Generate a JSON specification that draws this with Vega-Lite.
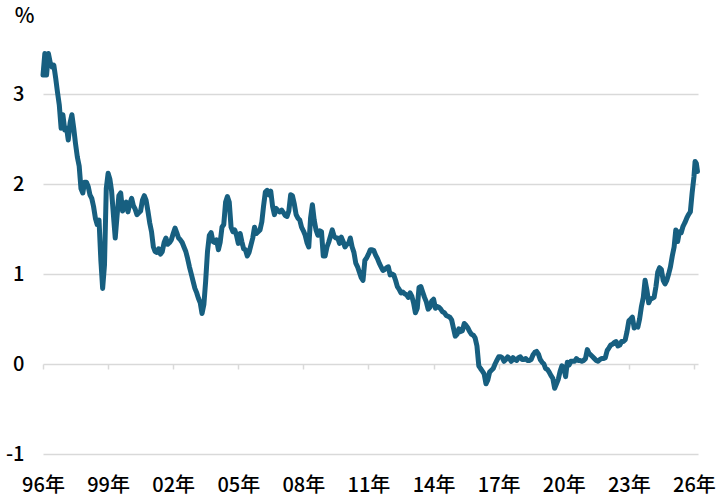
{
"$schema": "https://vega.github.io/schema/vega-lite/v6.json",
"width": 655, "height": 405,
"autosize": {"type": "none"},
"padding": {"left": 43, "top": 49, "right": 23, "bottom": 45},
"background": "white",
"config": {"view": {"stroke": null}, "font": "Noto Sans CJK JP"},
"datasets": {"jgb": [
{"d":"1996-01-01","v":3.21},{"d":"1996-02-01","v":3.45},{"d":"1996-03-01","v":3.21},{"d":"1996-04-01","v":3.45},{"d":"1996-05-01","v":3.35},{"d":"1996-06-01","v":3.3},{"d":"1996-07-01","v":3.32},{"d":"1996-08-01","v":3.18},{"d":"1996-09-01","v":3.02},{"d":"1996-10-01","v":2.88},{"d":"1996-11-01","v":2.62},{"d":"1996-12-01","v":2.77},
{"d":"1997-01-01","v":2.6},{"d":"1997-02-01","v":2.62},{"d":"1997-03-01","v":2.49},{"d":"1997-04-01","v":2.68},{"d":"1997-05-01","v":2.77},{"d":"1997-06-01","v":2.62},{"d":"1997-07-01","v":2.45},{"d":"1997-08-01","v":2.3},{"d":"1997-09-01","v":2.2},{"d":"1997-10-01","v":1.95},{"d":"1997-11-01","v":1.9},{"d":"1997-12-01","v":2.02},
{"d":"1998-01-01","v":2.02},{"d":"1998-02-01","v":1.97},{"d":"1998-03-01","v":1.88},{"d":"1998-04-01","v":1.84},{"d":"1998-05-01","v":1.75},{"d":"1998-06-01","v":1.62},{"d":"1998-07-01","v":1.55},{"d":"1998-08-01","v":1.6},{"d":"1998-09-01","v":1.15},{"d":"1998-10-01","v":0.84},{"d":"1998-11-01","v":1.1},{"d":"1998-12-01","v":1.95},
{"d":"1999-01-01","v":2.12},{"d":"1999-02-01","v":2.05},{"d":"1999-03-01","v":1.92},{"d":"1999-04-01","v":1.65},{"d":"1999-05-01","v":1.4},{"d":"1999-06-01","v":1.65},{"d":"1999-07-01","v":1.87},{"d":"1999-08-01","v":1.9},{"d":"1999-09-01","v":1.7},{"d":"1999-10-01","v":1.75},{"d":"1999-11-01","v":1.8},{"d":"1999-12-01","v":1.69},
{"d":"2000-01-01","v":1.78},{"d":"2000-02-01","v":1.84},{"d":"2000-03-01","v":1.76},{"d":"2000-04-01","v":1.72},{"d":"2000-05-01","v":1.66},{"d":"2000-06-01","v":1.68},{"d":"2000-07-01","v":1.7},{"d":"2000-08-01","v":1.82},{"d":"2000-09-01","v":1.87},{"d":"2000-10-01","v":1.82},{"d":"2000-11-01","v":1.7},{"d":"2000-12-01","v":1.57},
{"d":"2001-01-01","v":1.47},{"d":"2001-02-01","v":1.3},{"d":"2001-03-01","v":1.25},{"d":"2001-04-01","v":1.24},{"d":"2001-05-01","v":1.28},{"d":"2001-06-01","v":1.22},{"d":"2001-07-01","v":1.25},{"d":"2001-08-01","v":1.35},{"d":"2001-09-01","v":1.4},{"d":"2001-10-01","v":1.33},{"d":"2001-11-01","v":1.35},{"d":"2001-12-01","v":1.38},
{"d":"2002-01-01","v":1.45},{"d":"2002-02-01","v":1.51},{"d":"2002-03-01","v":1.46},{"d":"2002-04-01","v":1.4},{"d":"2002-05-01","v":1.38},{"d":"2002-06-01","v":1.35},{"d":"2002-07-01","v":1.3},{"d":"2002-08-01","v":1.25},{"d":"2002-09-01","v":1.17},{"d":"2002-10-01","v":1.08},{"d":"2002-11-01","v":1.0},{"d":"2002-12-01","v":0.92},
{"d":"2003-01-01","v":0.84},{"d":"2003-02-01","v":0.79},{"d":"2003-03-01","v":0.73},{"d":"2003-04-01","v":0.68},{"d":"2003-05-01","v":0.56},{"d":"2003-06-01","v":0.66},{"d":"2003-07-01","v":0.92},{"d":"2003-08-01","v":1.25},{"d":"2003-09-01","v":1.43},{"d":"2003-10-01","v":1.46},{"d":"2003-11-01","v":1.36},{"d":"2003-12-01","v":1.35},
{"d":"2004-01-01","v":1.38},{"d":"2004-02-01","v":1.27},{"d":"2004-03-01","v":1.35},{"d":"2004-04-01","v":1.52},{"d":"2004-05-01","v":1.55},{"d":"2004-06-01","v":1.8},{"d":"2004-07-01","v":1.86},{"d":"2004-08-01","v":1.8},{"d":"2004-09-01","v":1.52},{"d":"2004-10-01","v":1.47},{"d":"2004-11-01","v":1.49},{"d":"2004-12-01","v":1.43},
{"d":"2005-01-01","v":1.34},{"d":"2005-02-01","v":1.45},{"d":"2005-03-01","v":1.36},{"d":"2005-04-01","v":1.28},{"d":"2005-05-01","v":1.27},{"d":"2005-06-01","v":1.2},{"d":"2005-07-01","v":1.24},{"d":"2005-08-01","v":1.32},{"d":"2005-09-01","v":1.4},{"d":"2005-10-01","v":1.52},{"d":"2005-11-01","v":1.45},{"d":"2005-12-01","v":1.47},
{"d":"2006-01-01","v":1.49},{"d":"2006-02-01","v":1.58},{"d":"2006-03-01","v":1.75},{"d":"2006-04-01","v":1.91},{"d":"2006-05-01","v":1.93},{"d":"2006-06-01","v":1.88},{"d":"2006-07-01","v":1.92},{"d":"2006-08-01","v":1.75},{"d":"2006-09-01","v":1.66},{"d":"2006-10-01","v":1.73},{"d":"2006-11-01","v":1.7},{"d":"2006-12-01","v":1.69},
{"d":"2007-01-01","v":1.71},{"d":"2007-02-01","v":1.68},{"d":"2007-03-01","v":1.65},{"d":"2007-04-01","v":1.64},{"d":"2007-05-01","v":1.7},{"d":"2007-06-01","v":1.88},{"d":"2007-07-01","v":1.87},{"d":"2007-08-01","v":1.78},{"d":"2007-09-01","v":1.66},{"d":"2007-10-01","v":1.62},{"d":"2007-11-01","v":1.6},{"d":"2007-12-01","v":1.52},
{"d":"2008-01-01","v":1.48},{"d":"2008-02-01","v":1.43},{"d":"2008-03-01","v":1.35},{"d":"2008-04-01","v":1.3},{"d":"2008-05-01","v":1.62},{"d":"2008-06-01","v":1.77},{"d":"2008-07-01","v":1.6},{"d":"2008-08-01","v":1.49},{"d":"2008-09-01","v":1.43},{"d":"2008-10-01","v":1.48},{"d":"2008-11-01","v":1.47},{"d":"2008-12-01","v":1.2},
{"d":"2009-01-01","v":1.2},{"d":"2009-02-01","v":1.3},{"d":"2009-03-01","v":1.35},{"d":"2009-04-01","v":1.42},{"d":"2009-05-01","v":1.49},{"d":"2009-06-01","v":1.42},{"d":"2009-07-01","v":1.4},{"d":"2009-08-01","v":1.4},{"d":"2009-09-01","v":1.34},{"d":"2009-10-01","v":1.41},{"d":"2009-11-01","v":1.36},{"d":"2009-12-01","v":1.3},
{"d":"2010-01-01","v":1.33},{"d":"2010-02-01","v":1.34},{"d":"2010-03-01","v":1.4},{"d":"2010-04-01","v":1.3},{"d":"2010-05-01","v":1.24},{"d":"2010-06-01","v":1.12},{"d":"2010-07-01","v":1.08},{"d":"2010-08-01","v":1.02},{"d":"2010-09-01","v":0.96},{"d":"2010-10-01","v":0.93},{"d":"2010-11-01","v":1.15},{"d":"2010-12-01","v":1.18},
{"d":"2011-01-01","v":1.22},{"d":"2011-02-01","v":1.27},{"d":"2011-03-01","v":1.27},{"d":"2011-04-01","v":1.26},{"d":"2011-05-01","v":1.21},{"d":"2011-06-01","v":1.17},{"d":"2011-07-01","v":1.12},{"d":"2011-08-01","v":1.08},{"d":"2011-09-01","v":1.04},{"d":"2011-10-01","v":1.05},{"d":"2011-11-01","v":1.07},{"d":"2011-12-01","v":1.08},
{"d":"2012-01-01","v":0.99},{"d":"2012-02-01","v":1.0},{"d":"2012-03-01","v":0.99},{"d":"2012-04-01","v":0.93},{"d":"2012-05-01","v":0.86},{"d":"2012-06-01","v":0.83},{"d":"2012-07-01","v":0.79},{"d":"2012-08-01","v":0.8},{"d":"2012-09-01","v":0.78},{"d":"2012-10-01","v":0.77},{"d":"2012-11-01","v":0.74},{"d":"2012-12-01","v":0.79},
{"d":"2013-01-01","v":0.75},{"d":"2013-02-01","v":0.67},{"d":"2013-03-01","v":0.57},{"d":"2013-04-01","v":0.62},{"d":"2013-05-01","v":0.85},{"d":"2013-06-01","v":0.86},{"d":"2013-07-01","v":0.8},{"d":"2013-08-01","v":0.74},{"d":"2013-09-01","v":0.69},{"d":"2013-10-01","v":0.61},{"d":"2013-11-01","v":0.63},{"d":"2013-12-01","v":0.7},
{"d":"2014-01-01","v":0.72},{"d":"2014-02-01","v":0.62},{"d":"2014-03-01","v":0.64},{"d":"2014-04-01","v":0.63},{"d":"2014-05-01","v":0.61},{"d":"2014-06-01","v":0.58},{"d":"2014-07-01","v":0.57},{"d":"2014-08-01","v":0.54},{"d":"2014-09-01","v":0.53},{"d":"2014-10-01","v":0.52},{"d":"2014-11-01","v":0.49},{"d":"2014-12-01","v":0.4},
{"d":"2015-01-01","v":0.31},{"d":"2015-02-01","v":0.33},{"d":"2015-03-01","v":0.39},{"d":"2015-04-01","v":0.36},{"d":"2015-05-01","v":0.37},{"d":"2015-06-01","v":0.45},{"d":"2015-07-01","v":0.43},{"d":"2015-08-01","v":0.4},{"d":"2015-09-01","v":0.36},{"d":"2015-10-01","v":0.33},{"d":"2015-11-01","v":0.32},{"d":"2015-12-01","v":0.29},
{"d":"2016-01-01","v":0.2},{"d":"2016-02-01","v":-0.02},{"d":"2016-03-01","v":-0.05},{"d":"2016-04-01","v":-0.08},{"d":"2016-05-01","v":-0.11},{"d":"2016-06-01","v":-0.22},{"d":"2016-07-01","v":-0.18},{"d":"2016-08-01","v":-0.09},{"d":"2016-09-01","v":-0.07},{"d":"2016-10-01","v":-0.05},{"d":"2016-11-01","v":0.0},{"d":"2016-12-01","v":0.04},
{"d":"2017-01-01","v":0.08},{"d":"2017-02-01","v":0.08},{"d":"2017-03-01","v":0.07},{"d":"2017-04-01","v":0.03},{"d":"2017-05-01","v":0.05},{"d":"2017-06-01","v":0.08},{"d":"2017-07-01","v":0.06},{"d":"2017-08-01","v":0.03},{"d":"2017-09-01","v":0.07},{"d":"2017-10-01","v":0.05},{"d":"2017-11-01","v":0.04},{"d":"2017-12-01","v":0.07},
{"d":"2018-01-01","v":0.08},{"d":"2018-02-01","v":0.05},{"d":"2018-03-01","v":0.05},{"d":"2018-04-01","v":0.06},{"d":"2018-05-01","v":0.04},{"d":"2018-06-01","v":0.04},{"d":"2018-07-01","v":0.05},{"d":"2018-08-01","v":0.1},{"d":"2018-09-01","v":0.13},{"d":"2018-10-01","v":0.14},{"d":"2018-11-01","v":0.11},{"d":"2018-12-01","v":0.05},
{"d":"2019-01-01","v":0.02},{"d":"2019-02-01","v":0.0},{"d":"2019-03-01","v":-0.05},{"d":"2019-04-01","v":-0.06},{"d":"2019-05-01","v":-0.09},{"d":"2019-06-01","v":-0.13},{"d":"2019-07-01","v":-0.16},{"d":"2019-08-01","v":-0.27},{"d":"2019-09-01","v":-0.22},{"d":"2019-10-01","v":-0.17},{"d":"2019-11-01","v":-0.08},{"d":"2019-12-01","v":-0.02},
{"d":"2020-01-01","v":-0.04},{"d":"2020-02-01","v":-0.14},{"d":"2020-03-01","v":0.02},{"d":"2020-04-01","v":-0.01},{"d":"2020-05-01","v":0.03},{"d":"2020-06-01","v":0.03},{"d":"2020-07-01","v":0.03},{"d":"2020-08-01","v":0.06},{"d":"2020-09-01","v":0.04},{"d":"2020-10-01","v":0.04},{"d":"2020-11-01","v":0.03},{"d":"2020-12-01","v":0.04},
{"d":"2021-01-01","v":0.06},{"d":"2021-02-01","v":0.16},{"d":"2021-03-01","v":0.12},{"d":"2021-04-01","v":0.1},{"d":"2021-05-01","v":0.08},{"d":"2021-06-01","v":0.06},{"d":"2021-07-01","v":0.04},{"d":"2021-08-01","v":0.03},{"d":"2021-09-01","v":0.05},{"d":"2021-10-01","v":0.06},{"d":"2021-11-01","v":0.06},{"d":"2021-12-01","v":0.07},
{"d":"2022-01-01","v":0.15},{"d":"2022-02-01","v":0.18},{"d":"2022-03-01","v":0.21},{"d":"2022-04-01","v":0.22},{"d":"2022-05-01","v":0.24},{"d":"2022-06-01","v":0.25},{"d":"2022-07-01","v":0.2},{"d":"2022-08-01","v":0.21},{"d":"2022-09-01","v":0.25},{"d":"2022-10-01","v":0.25},{"d":"2022-11-01","v":0.27},{"d":"2022-12-01","v":0.36},
{"d":"2023-01-01","v":0.48},{"d":"2023-02-01","v":0.5},{"d":"2023-03-01","v":0.52},{"d":"2023-04-01","v":0.4},{"d":"2023-05-01","v":0.42},{"d":"2023-06-01","v":0.41},{"d":"2023-07-01","v":0.5},{"d":"2023-08-01","v":0.64},{"d":"2023-09-01","v":0.74},{"d":"2023-10-01","v":0.93},{"d":"2023-11-01","v":0.82},{"d":"2023-12-01","v":0.68},
{"d":"2024-01-01","v":0.72},{"d":"2024-02-01","v":0.73},{"d":"2024-03-01","v":0.74},{"d":"2024-04-01","v":0.86},{"d":"2024-05-01","v":1.02},{"d":"2024-06-01","v":1.07},{"d":"2024-07-01","v":1.05},{"d":"2024-08-01","v":0.93},{"d":"2024-09-01","v":0.89},{"d":"2024-10-01","v":0.93},{"d":"2024-11-01","v":1.0},{"d":"2024-12-01","v":1.08},
{"d":"2025-01-01","v":1.2},{"d":"2025-02-01","v":1.3},{"d":"2025-03-01","v":1.49},{"d":"2025-04-01","v":1.36},{"d":"2025-05-01","v":1.47},{"d":"2025-06-01","v":1.46},{"d":"2025-07-01","v":1.53},{"d":"2025-08-01","v":1.57},{"d":"2025-09-01","v":1.62},{"d":"2025-10-01","v":1.66},{"d":"2025-11-01","v":1.69},{"d":"2025-12-01","v":1.9},
{"d":"2026-01-01","v":2.08},{"d":"2026-01-20","v":2.25},{"d":"2026-02-10","v":2.23},{"d":"2026-03-01","v":2.14}
]},
"data": {"name": "jgb"},
"mark": {"type": "line", "color": "#175f80", "strokeWidth": 5, "strokeJoin": "round", "strokeCap": "round"},
"encoding": {
  "x": {"field": "d", "type": "temporal",
    "scale": {"type": "utc", "domain": [{"year": 1996, "month": 1, "date": 1, "utc": true}, {"year": 2026, "month": 3, "date": 10, "utc": true}]},
    "axis": {"orient": "bottom", "offset": -90,
      "values": [{"year":1996,"month":1,"date":1,"utc":true},{"year":1999,"month":1,"date":1,"utc":true},{"year":2002,"month":1,"date":1,"utc":true},{"year":2005,"month":1,"date":1,"utc":true},{"year":2008,"month":1,"date":1,"utc":true},{"year":2011,"month":1,"date":1,"utc":true},{"year":2014,"month":1,"date":1,"utc":true},{"year":2017,"month":1,"date":1,"utc":true},{"year":2020,"month":1,"date":1,"utc":true},{"year":2023,"month":1,"date":1,"utc":true},{"year":2026,"month":1,"date":1,"utc":true}],
      "labelExpr": "utcFormat(datum.value, '%y') + '年'",
      "domain": false, "grid": false, "ticks": true, "tickSize": 5, "tickColor": "#d9d9d9", "tickWidth": 1.5,
      "labelPadding": 106, "labelFontSize": 20, "labelFontWeight": 500, "labelColor": "#000000", "labelFont": "Noto Sans CJK JP",
      "labelFlush": false, "labelOverlap": false, "title": null}},
  "y": {"field": "v", "type": "quantitative",
    "scale": {"domain": [-1, 3.5], "nice": false, "zero": false},
    "axis": {"values": [-1, 0, 1, 2, 3], "labelExpr": "'' + datum.value",
      "domain": false, "ticks": false, "tickSize": 0, "grid": true, "gridColor": "#d9d9d9", "gridWidth": 1.5,
      "labelPadding": 19, "labelFontSize": 20, "labelFontWeight": 500, "labelColor": "#000000", "labelFont": "Noto Sans CJK JP",
      "title": "%", "titleAngle": 0, "titleX": -19, "titleY": -33, "titleAlign": "center", "titleBaseline": "middle",
      "titleFontSize": 21, "titleFontWeight": 500, "titleColor": "#000000", "titleFont": "Noto Sans CJK JP"}}
}
}
